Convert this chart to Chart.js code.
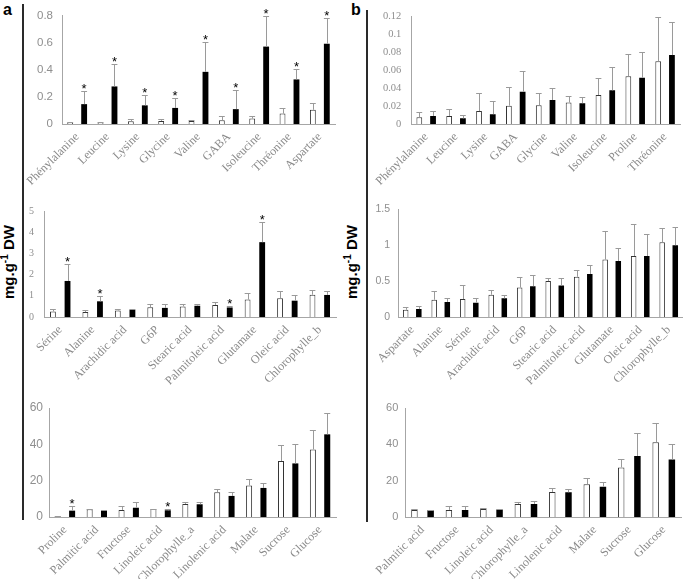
<!DOCTYPE html>
<html>
<head>
<meta charset="utf-8">
<script src="https://cdn.jsdelivr.net/npm/chart.js@4.4.0/dist/chart.umd.min.js"></script>
<style>
  body { margin: 0; background: #fff; }
  #fig { position: relative; width: 685px; height: 579px; overflow: hidden; background: #fff; }
  canvas { position: absolute; }
  .rule { position: absolute; width: 2px; background: #2a2a2a; }
  .letter { position: absolute; font: bold 16px "Liberation Sans", Arial, sans-serif; color: #000; }
  .ylab { position: absolute; width: 120px; height: 20px; line-height: 20px; text-align: center;
          font: bold 15px "Liberation Sans", Arial, sans-serif; color: #000; transform: rotate(-90deg); white-space: nowrap; }
  .ylab sup { font-size: 10px; line-height: 0; }
</style>
</head>
<body>
<div id="fig">
  <div class="rule" style="left:22px; top:4px; height:516px;"></div>
  <div class="rule" style="left:366px; top:10px; height:512px;"></div>
  <div class="letter" style="left:3px; top:1px;">a</div>
  <div class="letter" style="left:351px; top:1px;">b</div>
  <div class="ylab" style="left:-50px; top:252px;">mg.g<sup>-1</sup> DW</div>
  <div class="ylab" style="left:293px; top:252px;">mg.g<sup>-1</sup> DW</div>

  <canvas id="a1" width="320" height="195" style="left:20px; top:0px;"></canvas>
  <canvas id="b1" width="315" height="195" style="left:370px; top:0px;"></canvas>
  <canvas id="a2" width="320" height="190" style="left:20px; top:195px;"></canvas>
  <canvas id="b2" width="315" height="190" style="left:370px; top:195px;"></canvas>
  <canvas id="a3" width="315" height="189" style="left:25px; top:390px;"></canvas>
  <canvas id="b3" width="315" height="189" style="left:370px; top:390px;"></canvas>
</div>
<script>
// panel a, top: amino acids
var a1Labels = ["Phénylalanine", "Leucine", "Lysine", "Glycine", "Valine", "GABA", "Isoleucine", "Thréonine", "Aspartate"];
var a1White = [0.012, 0.011, 0.02, 0.023, 0.023, 0.028, 0.04, 0.077, 0.105];
var a1WhiteSd = [0.004, 0.003, 0.015, 0.014, 0.01, 0.028, 0.018, 0.042, 0.047];
var a1Black = [0.147, 0.278, 0.138, 0.119, 0.386, 0.11, 0.573, 0.33, 0.594];
var a1BlackSd = [0.094, 0.169, 0.077, 0.073, 0.218, 0.14, 0.227, 0.079, 0.194];
var a1Stars = [true, true, true, true, true, true, true, true, true];

// panel b, top
var b1Labels = ["Phénylalanine", "Leucine", "Lysine", "GABA", "Glycine", "Valine", "Isoleucine", "Proline", "Thréonine"];
var b1White = [0.0074, 0.009, 0.0144, 0.0204, 0.021, 0.0239, 0.0323, 0.0533, 0.0698];
var b1WhiteSd = [0.0056, 0.0075, 0.0196, 0.0206, 0.0134, 0.0077, 0.0187, 0.0247, 0.0492];
var b1Black = [0.009, 0.0063, 0.011, 0.036, 0.0267, 0.0232, 0.0375, 0.0516, 0.0768];
var b1BlackSd = [0.0054, 0.0032, 0.0146, 0.0236, 0.0133, 0.0068, 0.026, 0.0284, 0.0369];
var b1Stars = [false, false, false, false, false, false, false, false, false];

// panel a, middle
var a2Labels = ["Sérine", "Alanine", "Arachidic acid", "G6P", "Stearic acid", "Palmitoleic acid", "Glutamate", "Oleic acid", "Chlorophylle_b"];
var a2White = [0.26, 0.23, 0.31, 0.46, 0.5, 0.57, 0.82, 0.88, 1.05];
var a2WhiteSd = [0.14, 0.11, 0.06, 0.13, 0.09, 0.14, 0.33, 0.36, 0.22];
var a2Black = [1.7, 0.74, 0.34, 0.43, 0.53, 0.45, 3.53, 0.77, 1.04];
var a2BlackSd = [0.78, 0.24, 0.02, 0.16, 0.1, 0.09, 0.94, 0.27, 0.21];
var a2Stars = [true, true, false, false, false, true, true, false, false];

// panel b, middle
var b2Labels = ["Aspartate", "Alanine", "Sérine", "Arachidic acid", "G6P", "Stearic acid", "Palmitoleic acid", "Glutamate", "Oleic acid", "Chlorophylle_b"];
var b2White = [0.1, 0.24, 0.25, 0.31, 0.41, 0.5, 0.56, 0.8, 0.85, 1.04];
var b2WhiteSd = [0.04, 0.12, 0.19, 0.07, 0.15, 0.05, 0.09, 0.4, 0.45, 0.2];
var b2Black = [0.11, 0.21, 0.2, 0.26, 0.43, 0.44, 0.6, 0.78, 0.85, 1.0];
var b2BlackSd = [0.04, 0.05, 0.07, 0.04, 0.16, 0.1, 0.12, 0.18, 0.3, 0.25];
var b2Stars = [false, false, false, false, false, false, false, false, false, false];

// panel a, bottom
var a3Labels = ["Proline", "Palmitic acid", "Fructose", "Linoleic acid", "Chlorophylle_a", "Linolenic acid", "Malate", "Sucrose", "Glucose"];
var a3White = [0.4, 4.2, 3.9, 4.4, 7.2, 13.6, 17.4, 30.8, 37.2];
var a3WhiteSd = [0.1, 0.2, 2.1, 0.2, 1.1, 2.0, 3.3, 8.6, 10.7];
var a3Black = [3.5, 3.7, 5.1, 3.7, 7.0, 11.6, 16.0, 29.5, 45.5];
var a3BlackSd = [2.5, 0.2, 3.0, 0.9, 1.3, 2.2, 2.5, 10.7, 11.5];
var a3Stars = [true, false, false, true, false, false, false, false, false];

// panel b, bottom
var b3Labels = ["Palmitic acid", "Fructose", "Linoleic acid", "Chlorophylle_a", "Linolenic acid", "Malate", "Sucrose", "Glucose"];
var b3White = [3.9, 3.9, 4.4, 7.2, 13.8, 18.0, 27.3, 41.1];
var b3WhiteSd = [0.3, 2.1, 0.4, 1.1, 2.2, 3.3, 4.8, 10.5];
var b3Black = [3.7, 3.9, 4.0, 7.2, 13.6, 16.7, 33.6, 31.6];
var b3BlackSd = [0.2, 2.1, 0.6, 1.4, 1.8, 2.6, 12.4, 8.6];
var b3Stars = [false, false, false, false, false, false, false, false];

var serif = "'Liberation Serif', 'Times New Roman', serif";
var sans = "'Liberation Sans', Arial, sans-serif";

// upper error bars + significance stars
var errorBars = {
  id: "errorBars",
  afterDatasetsDraw: function (chart) {
    var ctx = chart.ctx;
    var y = chart.scales.y;
    ctx.save();
    chart.data.datasets.forEach(function (ds, i) {
      var meta = chart.getDatasetMeta(i);
      meta.data.forEach(function (bar, j) {
        var top = Math.round(y.getPixelForValue(ds.data[j] + ds.sd[j])) + 0.5;
        var cx = Math.round(bar.x) + 0.5;
        var half = bar.width / 2;
        ctx.strokeStyle = "#9a9a9a";
        ctx.lineWidth = 1;
        ctx.beginPath();
        ctx.moveTo(cx, bar.y);
        ctx.lineTo(cx, top);
        ctx.moveTo(bar.x - half, top);
        ctx.lineTo(bar.x + half, top);
        ctx.stroke();
        if (ds.stars && ds.stars[j]) {
          ctx.fillStyle = "#000";
          ctx.font = "13px " + sans;
          ctx.textAlign = "center";
          ctx.textBaseline = "alphabetic";
          ctx.fillText("*", bar.x, top + 1);
        }
      });
    });
    ctx.restore();
  }
};

function makePanel(id, labels, white, whiteSd, black, blackSd, stars, opt) {
  var canvas = document.getElementById(id);
  if (!canvas || !window.Chart) {
    return;
  }
  new Chart(canvas, {
    type: "bar",
    data: {
      labels: labels,
      datasets: [
        { data: white, sd: whiteSd, backgroundColor: "#fff", borderColor: "#333", borderWidth: 1 },
        { data: black, sd: blackSd, stars: stars, backgroundColor: "#000", borderColor: "#000", borderWidth: 0 }
      ]
    },
    options: {
      responsive: false,
      animation: false,
      layout: { padding: { top: opt.top, right: opt.right, left: 0, bottom: 0 } },
      datasets: { bar: { categoryPercentage: opt.cat, barPercentage: opt.bar } },
      plugins: { legend: { display: false }, tooltip: { enabled: false } },
      scales: {
        x: {
          grid: { display: false, drawTicks: false },
          border: { color: "#a6a6a6" },
          ticks: {
            autoSkip: false, maxRotation: 45, minRotation: 45, padding: 6,
            color: "#8a8a8a", font: { family: serif, size: 12 }
          },
          afterFit: function (s) { s.height = opt.xh; }
        },
        y: {
          min: 0, max: opt.max,
          grid: { display: false, drawTicks: false },
          border: { color: "#a6a6a6" },
          ticks: {
            stepSize: opt.step, padding: opt.tpad,
            color: "#8f8f8f", font: { family: opt.tfont, size: opt.tsize },
            callback: function (v) { return String(+Number(v).toFixed(3)); }
          },
          afterFit: function (s) { s.width = opt.yw; }
        }
      }
    },
    plugins: [errorBars]
  });
}

makePanel("a1", a1Labels, a1White, a1WhiteSd, a1Black, a1BlackSd, a1Stars,
  { top: 10, right: 5, xh: 71, yw: 42, max: 0.8, step: 0.2, tpad: 9, tfont: sans, tsize: 11.5, cat: 0.92, bar: 0.42 });
makePanel("b1", b1Labels, b1White, b1WhiteSd, b1Black, b1BlackSd, b1Stars,
  { top: 10, right: 5, xh: 71, yw: 38, max: 0.12, step: 0.02, tpad: 10, tfont: serif, tsize: 10.5, cat: 0.92, bar: 0.42 });
makePanel("a2", a2Labels, a2White, a2WhiteSd, a2Black, a2BlackSd, a2Stars,
  { top: 14, right: 4, xh: 68, yw: 24, max: 5, step: 1, tpad: 10, tfont: serif, tsize: 10, cat: 0.9, bar: 0.4 });
makePanel("b2", b2Labels, b2White, b2WhiteSd, b2Black, b2BlackSd, b2Stars,
  { top: 14, right: 2, xh: 68, yw: 28, max: 1.5, step: 0.5, tpad: 8, tfont: sans, tsize: 10.5, cat: 0.92, bar: 0.42 });
makePanel("a3", a3Labels, a3White, a3WhiteSd, a3Black, a3BlackSd, a3Stars,
  { top: 18, right: 4, xh: 62, yw: 24, max: 60, step: 20, tpad: 6, tfont: sans, tsize: 12, cat: 0.9, bar: 0.42 });
makePanel("b3", b3Labels, b3White, b3WhiteSd, b3Black, b3BlackSd, b3Stars,
  { top: 18, right: 4, xh: 62, yw: 32, max: 60, step: 20, tpad: 7, tfont: sans, tsize: 11, cat: 0.94, bar: 0.4 });
</script>
</body>
</html>
